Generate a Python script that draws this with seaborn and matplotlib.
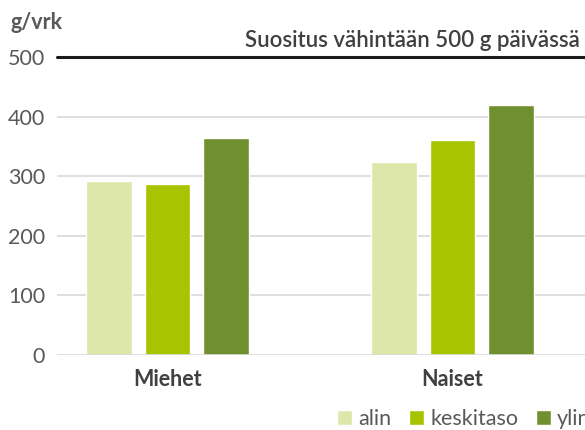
import matplotlib
matplotlib.use("Agg")
import matplotlib.pyplot as plt
import seaborn as sns
import pandas as pd

groups = ["Miehet", "Naiset"]
levels = ["alin", "keskitaso", "ylin"]
miehet_values = [292, 287, 364]
naiset_values = [324, 360, 419]
colors = ["#DCE7A9", "#A8C400", "#709030"]
y_ticks = [0, 100, 200, 300, 400, 500]
y_label = "g/vrk"
recommendation = "Suositus vähintään 500 g päivässä"
recommendation_value = 500

rows = []
for lvl, v in zip(levels, miehet_values):
    rows.append({"ryhmä": groups[0], "taso": lvl, "arvo": v})
for lvl, v in zip(levels, naiset_values):
    rows.append({"ryhmä": groups[1], "taso": lvl, "arvo": v})
df = pd.DataFrame(rows)

sns.set_theme(style="white")
plt.rcParams["font.family"] = ["Lato", "DejaVu Sans"]

W, H = 585, 430
fig = plt.figure(figsize=(W / 100, H / 100), dpi=100)
ax = fig.add_axes([57 / W, 1 - 355 / H, 1 - 57 / W, (355 - 57) / H])

sns.barplot(data=df, x="ryhmä", y="arvo", hue="taso", hue_order=levels,
            order=groups, palette=colors, width=0.615, gap=0.215,
            saturation=1, ax=ax, legend=True, zorder=3)

ax.set_xlim(-0.388, 1.465)
ax.set_ylim(0, 500)
ax.set_yticks(y_ticks)
for t in y_ticks[1:-1]:
    ax.axhline(t, color="#D9D9D9", lw=1.2, zorder=1)
ax.axhline(0, color="#D9D9D9", lw=1.2, zorder=4)
ax.axhline(recommendation_value, color="#1a1a1a", lw=2.2, zorder=4, clip_on=False)

for s in ax.spines.values():
    s.set_visible(False)
ax.tick_params(axis="y", length=0, pad=8.5, labelsize=15.5, labelcolor="#595959")
ax.tick_params(axis="x", length=0, pad=10, labelsize=15.5, labelcolor="#404040")
for lab in ax.get_xticklabels():
    lab.set_fontweight("bold")
ax.set_xlabel("")
ax.set_ylabel("")

fig.text(10 / W, 1 - 29 / H, y_label, fontsize=15.5, fontweight="bold",
         color="#595959", va="baseline", ha="left")
fig.text(245 / W, 1 - 47 / H, recommendation, fontsize=16,
         color="#404040", va="baseline", ha="left", fontweight="semibold")

handles, labels = ax.get_legend_handles_labels()
ax.get_legend().remove()
fig.legend(handles, labels, loc="center left", bbox_to_anchor=(337 / W, 1 - 419 / H),
           ncol=3, frameon=False, fontsize=15.5, labelcolor="#595959",
           handlelength=0.7, handleheight=0.7, handletextpad=0.3,
           columnspacing=0.8, borderpad=0, borderaxespad=0)

fig.savefig("out.png", dpi=100)
